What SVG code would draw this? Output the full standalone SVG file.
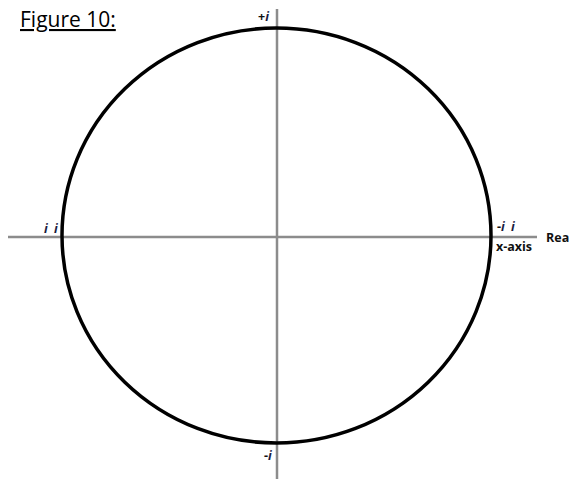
<svg xmlns="http://www.w3.org/2000/svg" width="570" height="479" viewBox="0 0 570 479">
<style>
.ax{stroke:#8c8c8c;stroke-width:2.5;fill:none}
.lb{font-family:"Open Sans","Liberation Sans",sans-serif;font-size:12.5px;font-weight:bold;fill:#111}
.it{font-style:italic;fill:#1a1a40}
</style>
<rect width="570" height="479" fill="#fff"/>
<g id="title"><text x="20" y="27" font-family="Open Sans, Liberation Sans, sans-serif" font-size="21" fill="#000" text-decoration="underline">Figure 10:</text></g>
<g id="connectors">
<line class="ax" x1="277" y1="9" x2="277" y2="479"/>
<line class="ax" x1="8" y1="237" x2="537" y2="237"/>
</g>
<g id="circle"><ellipse cx="276.5" cy="235.5" rx="214.5" ry="207.5" fill="none" stroke="#000" stroke-width="3.5"/></g>
<g id="plus-i"><text class="lb" x="258" y="21">+<tspan class="it">i</tspan></text></g>
<g id="ii"><text class="lb it" x="44" y="233" letter-spacing="1.5">i i</text></g>
<g id="minus-ii"><text class="lb" x="497" y="231">-<tspan class="it" letter-spacing="1.5">i i</tspan></text></g>
<g id="xaxis"><text class="lb" x="496" y="251">x-axis</text></g>
<g id="rea"><text class="lb" x="546" y="242">Rea</text></g>
<g id="minus-i"><text class="lb" x="264" y="460">-<tspan class="it">i</tspan></text></g>
</svg>
